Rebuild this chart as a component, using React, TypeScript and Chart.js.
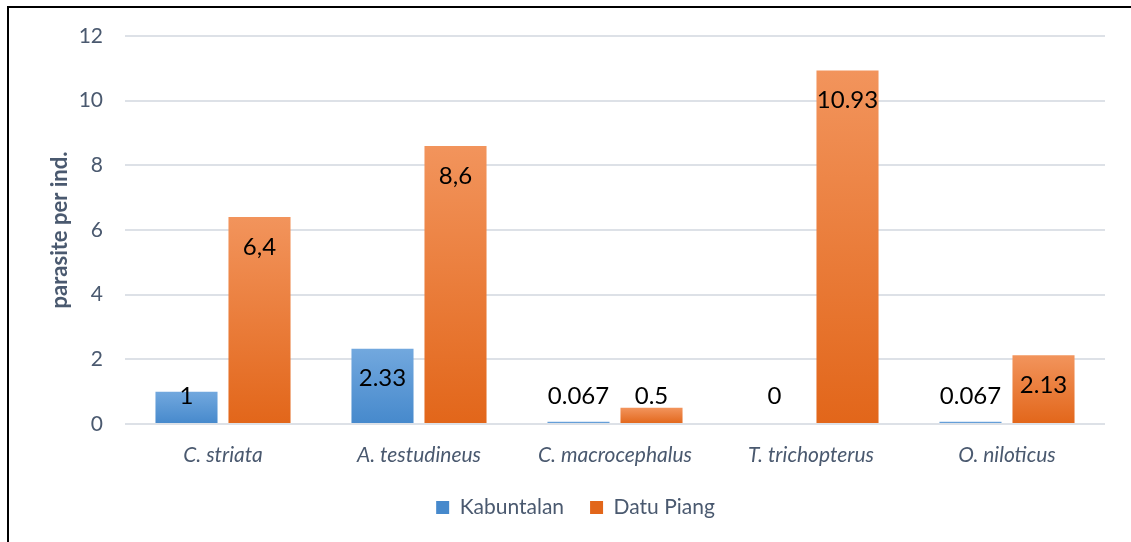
import React, { useEffect, useRef } from "react";
import { Chart, registerables } from "chart.js";

Chart.register(...registerables);

const categories = ["C. striata", "A. testudineus", "C. macrocephalus", "T. trichopterus", "O. niloticus"];
const seriesNames = ["Kabuntalan", "Datu Piang"];
const kabuntalan = [1, 2.33, 0.067, 0, 0.067];
const datuPiang = [6.4, 8.6, 0.5, 10.93, 2.13];
const kabuntalanLabels = ["1", "2.33", "0.067", "0", "0.067"];
const datuPiangLabels = ["6,4", "8,6", "0.5", "10.93", "2.13"];
const yTicks = [0, 2, 4, 6, 8, 10, 12];

const TEXT = "#4a596f";
const FONT = "Lato, 'Open Sans', sans-serif";

const blueTop = "#72a8de";
const blueBottom = "#4689cc";
const orangeTop = "#f2945c";
const orangeBottom = "#e2661a";

function gradientFill(top: string, bottom: string, solid: string) {
  return (ctx: any) => {
    if (ctx.type !== "data") return solid;
    const chart = ctx.chart;
    const y = chart.scales?.y;
    if (!y || !chart.chartArea) return solid;
    const v = ctx.parsed?.y ?? 0;
    const yTop = y.getPixelForValue(v);
    const yBase = y.getPixelForValue(0);
    if (Math.abs(yBase - yTop) < 1) return solid;
    const g = chart.ctx.createLinearGradient(0, yTop, 0, yBase);
    g.addColorStop(0, top);
    g.addColorStop(1, bottom);
    return g;
  };
}

const labelPlugin = {
  id: "barLabels",
  afterLayout(chart: any) {
    const lg = chart.legend;
    if (lg) {
      lg.left += 23;
      lg.right += 23;
    }
  },
  afterDatasetsDraw(chart: any) {
    const ctx = chart.ctx;
    const y = chart.scales.y;
    const base = y.getPixelForValue(0);
    const labelSets = [kabuntalanLabels, datuPiangLabels];
    ctx.save();
    ctx.font = `24px ${FONT}`;
    ctx.fillStyle = "#000000";
    ctx.textAlign = "center";
    ctx.textBaseline = "middle";
    chart.data.datasets.forEach((ds: any, di: number) => {
      const meta = chart.getDatasetMeta(di);
      meta.data.forEach((bar: any, i: number) => {
        const cy = Math.min(bar.y + 30, base - 28);
        ctx.fillText(labelSets[di][i], bar.x, cy);
      });
    });
    ctx.restore();
  },
};

export default function App() {
  const ref = useRef<HTMLCanvasElement | null>(null);

  useEffect(() => {
    if (!ref.current) return;
    const chart = new Chart(ref.current, {
      type: "bar",
      data: {
        labels: categories,
        datasets: [
          {
            label: seriesNames[0],
            data: kabuntalan,
            backgroundColor: gradientFill(blueTop, blueBottom, "#5b9bd5"),
            borderWidth: 0,
            categoryPercentage: 0.745,
            barPercentage: 0.85,
          },
          {
            label: seriesNames[1],
            data: datuPiang,
            backgroundColor: gradientFill(orangeTop, orangeBottom, "#ed7d31"),
            borderWidth: 0,
            categoryPercentage: 0.745,
            barPercentage: 0.85,
          },
        ],
      },
      options: {
        animation: false,
        responsive: false,
        maintainAspectRatio: false,
        layout: { padding: { top: 36, left: 0, right: 26, bottom: 14 } },
        plugins: {
          legend: {
            position: "bottom",
            labels: {
              boxWidth: 13,
              boxHeight: 13,
              padding: 26,
              color: TEXT,
              font: { family: FONT, size: 21 },
            },
          },
          tooltip: { enabled: false },
        },
        scales: {
          x: {
            grid: { display: false, drawTicks: false },
            border: { display: false },
            ticks: {
              color: TEXT,
              padding: 19,
              font: { family: FONT, size: 21, style: "italic" },
            },
            afterFit: (s: any) => {
              s.height = 47;
            },
          },
          y: {
            min: 0,
            max: 12,
            afterBuildTicks: (s: any) => {
              s.ticks = yTicks.map((v) => ({ value: v }));
            },
            grid: { color: "#dde1e7", lineWidth: 2, drawTicks: false },
            border: { display: false },
            ticks: {
              color: TEXT,
              padding: 22,
              font: { family: FONT, size: 21 },
            },
            title: {
              display: true,
              text: "parasite per ind.",
              color: TEXT,
              font: { family: FONT, size: 22, weight: "bold" },
              padding: { top: 47, bottom: 0 },
            },
            afterFit: (s: any) => {
              s.width = 125;
            },
          },
        },
      },
      plugins: [labelPlugin],
    } as any);
    return () => chart.destroy();
  }, []);

  return (
    <>
      <div style={{ position: "absolute", left: 0, top: 0, width: 1131, height: 542, background: "#fff" }}>
        <canvas ref={ref} width={1131} height={542} style={{ display: "block", width: 1131, height: 542 }} />
      </div>
      <div
        style={{
          position: "absolute",
          left: 7,
          top: 6,
          right: 0,
          bottom: 0,
          borderTop: "2px solid #000",
          borderLeft: "2px solid #000",
          pointerEvents: "none",
        }}
      />
    </>
  );
}
